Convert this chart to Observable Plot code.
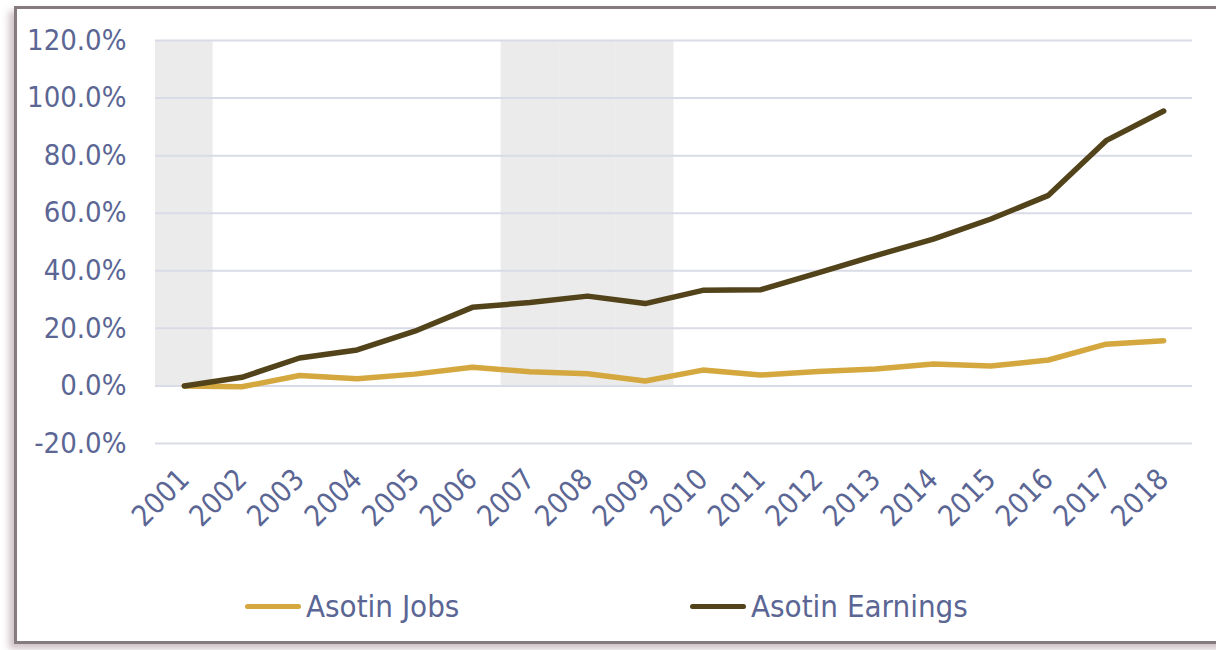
<!DOCTYPE html>
<html><head><meta charset="utf-8">
<script src="https://cdn.jsdelivr.net/npm/d3@7"></script>
<script src="https://cdn.jsdelivr.net/npm/@observablehq/plot@0.6"></script>
<style>
html,body{margin:0;padding:0;background:#fff;}
body{width:1216px;height:650px;overflow:hidden;position:relative;font-family:"Liberation Sans Narrow","DejaVu Sans Condensed","Open Sans",sans-serif;}
#frame{position:absolute;left:14px;top:6px;width:1240px;height:632px;border:3px solid #857b7f;background:#fff;box-shadow:-5px 5px 7px rgba(150,120,130,0.45);}
#chart{position:absolute;left:0;top:0;}
.leg{position:absolute;top:588px;display:flex;align-items:center;font-size:31px;color:#5b6694;}
.sw{display:inline-block;width:56px;height:5px;border-radius:3px;margin-right:5px;}
</style></head>
<body>
<div id="frame"></div>
<div id="chart"></div>
<div class="leg" style="left:245px"><span class="sw" style="background:#d4a83f"></span>Asotin Jobs</div>
<div class="leg" style="left:690px"><span class="sw" style="background:#52431a"></span>Asotin Earnings</div>
<script>
const years = ["2001","2002","2003","2004","2005","2006","2007","2008","2009","2010","2011","2012","2013","2014","2015","2016","2017","2018"];
const jobs = [0, -0.3, 3.6, 2.5, 4.1, 6.5, 4.9, 4.2, 1.7, 5.5, 3.8, 5.0, 5.9, 7.6, 6.9, 9.0, 14.5, 15.7];
const earnings = [0, 3.0, 9.7, 12.5, 19.0, 27.3, 29.0, 31.2, 28.6, 33.2, 33.4, 39.3, 45.3, 51.0, 58.0, 66.2, 85.2, 95.5];
const recessionYears = ["2001","2007","2008","2009"];
const recessionTop = 120;
const yTicks = [-20, 0, 20, 40, 60, 80, 100, 120];
const textColor = "#5b6694";

const jobsData = years.map((y,i)=>({year:y, value:jobs[i]}));
const earnData = years.map((y,i)=>({year:y, value:earnings[i]}));

const chart = Plot.plot({
  width: 1216,
  height: 560,
  marginLeft: 155,
  marginRight: 24,
  marginTop: 40,
  marginBottom: 117,
  style: {color: textColor, fontFamily: '"Liberation Sans Narrow","DejaVu Sans Condensed","Open Sans",sans-serif', background: "transparent"},
  x: {type: "band", domain: years, padding: 0, round: false},
  y: {domain: [-20, 120]},
  marks: [
    Plot.barY(recessionYears, {x: d => d, y1: 0, y2: recessionTop, fill: "#ebebeb", inset: 0}),
    Plot.gridY(yTicks, {stroke: "#d9dbe6", strokeOpacity: 1, strokeWidth: 2}),
    Plot.axisY(yTicks, {tickSize: 0, tickPadding: 29, fontSize: 29, label: null, tickFormat: d => d.toFixed(1) + "%"}),
    Plot.axisX({tickSize: 0, tickRotate: -45, tickPadding: 31, fontSize: 29, label: null}),
    Plot.lineY(jobsData, {x: "year", y: "value", stroke: "#d4a83f", strokeWidth: 5.5, strokeLinecap: "round", strokeLinejoin: "round"}),
    Plot.lineY(earnData, {x: "year", y: "value", stroke: "#52431a", strokeWidth: 5.5, strokeLinecap: "round", strokeLinejoin: "round"})
  ]
});
document.getElementById("chart").appendChild(chart);
</script>
</body></html>
